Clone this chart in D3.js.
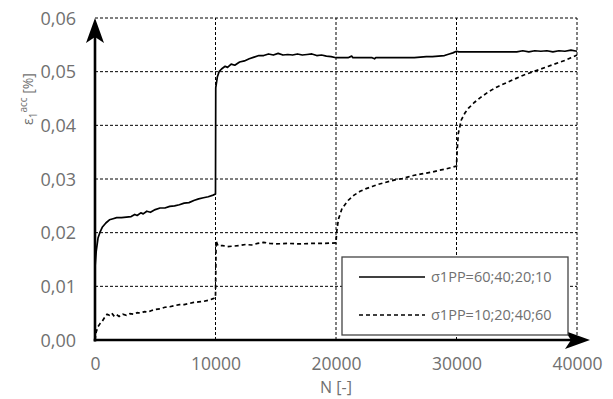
<!DOCTYPE html>
<html>
<head>
<meta charset="utf-8">
<script src="https://cdn.jsdelivr.net/npm/d3@7"></script>
<style>
  html, body { margin: 0; padding: 0; background: #fff; }
  svg { display: block; }
  text { font-family: "Open Sans", "Noto Sans", sans-serif; }
</style>
</head>
<body>
<svg id="chart" width="613" height="399"></svg>
<script>
// ---- Data ----
const xTicks = [0, 10000, 20000, 30000, 40000];
const yTicks = [0, 0.01, 0.02, 0.03, 0.04, 0.05, 0.06];
const seriesNames = ["σ1PP=60;40;20;10", "σ1PP=10;20;40;60"];

const solidN = [0,100,250,400,600,900,1200,1500,1800,2200,2600,3000,3300,3500,3800,4000,4300,4600,5000,5400,5800,6200,6600,7000,7400,7800,8200,8600,9000,9400,9800,10000,
  10020,10150,10300,10500,10800,11000,11300,11600,12000,12400,12800,13200,13600,14000,14400,14800,15200,15600,16000,16400,16800,17200,17600,18000,18400,18800,19200,19600,20000,
  21000,21300,21400,23000,23200,23300,25000,26500,27000,27500,28000,28500,29000,29400,29700,30000,
  30200,35000,35500,36000,36500,37000,37500,38000,38500,39000,39500,40000];
const solidV = [0.0135,0.0165,0.0190,0.0200,0.0210,0.0218,0.0224,0.0226,0.0228,0.0228,0.0229,0.0230,0.0234,0.0232,0.0237,0.0235,0.0240,0.0238,0.0243,0.0246,0.0246,0.0249,0.0250,0.0252,0.0255,0.0256,0.0260,0.0263,0.0265,0.0267,0.0270,0.0272,
  0.0470,0.0490,0.0500,0.0505,0.0510,0.0508,0.0514,0.0512,0.0518,0.0520,0.0524,0.0527,0.0530,0.0530,0.0533,0.0531,0.0534,0.0531,0.0532,0.0531,0.0533,0.0531,0.0532,0.0533,0.0530,0.0531,0.0529,0.0528,0.0526,
  0.0526,0.0529,0.0526,0.0526,0.0524,0.0526,0.0526,0.0526,0.0527,0.0528,0.0528,0.0529,0.0530,0.0533,0.0535,0.0538,
  0.0537,0.0537,0.0539,0.0537,0.0539,0.0538,0.0539,0.0537,0.0539,0.0538,0.0540,0.0538];

const dashedN = [0,100,250,400,600,800,1000,1200,1400,1600,1800,2000,2300,2600,2900,3200,3500,3800,4100,4400,4700,5000,5400,5800,6200,6600,7000,7400,7800,8200,8600,9000,9400,9800,10000,
  10050,10200,10600,11000,11500,12000,12500,13000,13500,14000,14500,15000,16000,17000,18000,19000,20000,
  20050,20200,20500,21000,21500,22000,22500,23000,23500,24000,24500,25000,25500,26000,26500,27000,27500,28000,28500,29000,29500,30000,
  30050,30150,30400,30700,31000,31500,32000,32500,33000,33500,34000,34500,35000,35500,36000,36500,37000,37500,38000,38500,39000,39500,40000];
const dashedV = [0.0000,0.0015,0.0025,0.0030,0.0035,0.0042,0.0048,0.0046,0.0050,0.0044,0.0047,0.0044,0.0048,0.0046,0.0049,0.0048,0.0051,0.0050,0.0053,0.0052,0.0055,0.0057,0.0058,0.0061,0.0062,0.0064,0.0066,0.0066,0.0068,0.0070,0.0071,0.0072,0.0074,0.0077,0.0079,
  0.0185,0.0176,0.0176,0.0174,0.0175,0.0176,0.0178,0.0177,0.0180,0.0182,0.0180,0.0179,0.0180,0.0179,0.0180,0.0180,0.0181,
  0.0200,0.0225,0.0245,0.0260,0.0270,0.0277,0.0282,0.0286,0.0290,0.0293,0.0296,0.0299,0.0301,0.0304,0.0307,0.0309,0.0311,0.0313,0.0316,0.0318,0.0321,0.0324,
  0.0350,0.0385,0.0410,0.0423,0.0432,0.0443,0.0452,0.0460,0.0467,0.0473,0.0478,0.0483,0.0488,0.0493,0.0497,0.0501,0.0505,0.0509,0.0513,0.0517,0.0521,0.0526,0.0531];

// ---- Chart ----
const svg = d3.select("#chart");
const x = d3.scaleLinear().domain([0, 40000]).range([95, 577]);
const y = d3.scaleLinear().domain([0, 0.06]).range([340, 18]);
const textColor = "#707070";
const fmtY = v => d3.format(".2f")(v).replace(".", ",");

// gridlines
svg.append("g").selectAll("line").data(yTicks.filter(d => d > 0)).join("line")
  .attr("x1", x(0)).attr("x2", x(40000))
  .attr("y1", d => y(d)).attr("y2", d => y(d))
  .attr("stroke", "#000").attr("stroke-width", 1).attr("stroke-dasharray", "3,2");
svg.append("g").selectAll("line").data(xTicks.filter(d => d > 0)).join("line")
  .attr("x1", d => x(d)).attr("x2", d => x(d))
  .attr("y1", y(0)).attr("y2", y(0.06))
  .attr("stroke", "#000").attr("stroke-width", 1).attr("stroke-dasharray", "3,2");

// axes tick labels via d3 axes
const yAxis = svg.append("g").attr("transform", `translate(${x(0) - 16},0)`)
  .call(d3.axisLeft(y).tickValues(yTicks).tickFormat(fmtY).tickSize(0));
yAxis.select(".domain").remove();
yAxis.selectAll("text").attr("fill", textColor).style("font-size", "18px")
  .attr("dx", 0).attr("dy", "0.35em");

const xAxis = svg.append("g").attr("transform", `translate(0,${y(0) + 14})`)
  .call(d3.axisBottom(x).tickValues(xTicks).tickFormat(d3.format("d")).tickSize(0));
xAxis.select(".domain").remove();
xAxis.selectAll("text").attr("fill", textColor).style("font-size", "17.5px").attr("dy", "0.72em");

// data lines
const line = d3.line().x(d => x(d[0])).y(d => y(d[1]));
svg.append("path").datum(d3.zip(solidN, solidV))
  .attr("d", line).attr("fill", "none").attr("stroke", "#000").attr("stroke-width", 1.7)
  .attr("stroke-linejoin", "round");
svg.append("path").datum(d3.zip(dashedN, dashedV))
  .attr("d", line).attr("fill", "none").attr("stroke", "#000").attr("stroke-width", 1.7)
  .attr("stroke-dasharray", "4,3");

// axis lines with arrows
svg.append("line").attr("x1", x(0)).attr("x2", x(0)).attr("y1", y(0) + 1.5).attr("y2", y(0.06) + 12)
  .attr("stroke", "#000").attr("stroke-width", 2.6);
svg.append("line").attr("x1", x(0) - 1.3).attr("x2", 575).attr("y1", y(0)).attr("y2", y(0))
  .attr("stroke", "#000").attr("stroke-width", 2.6);
const ax = x(0), ay = y(0.06);
svg.append("path")
  .attr("d", `M${ax},${ay} L${ax + 9},${ay + 25} L${ax},${ay + 19} L${ax - 9},${ay + 25} Z`)
  .attr("fill", "#000");
const bx = 590, by = y(0);
svg.append("path")
  .attr("d", `M${bx},${by} L${bx - 25},${by + 9} L${bx - 19},${by} L${bx - 25},${by - 9} Z`)
  .attr("fill", "#000");

// axis titles
svg.append("text").attr("x", x(20000)).attr("y", 393).attr("text-anchor", "middle")
  .attr("fill", textColor).style("font-size", "16px").text("N [-]");

const yl = svg.append("text").attr("transform", "translate(33,99) rotate(-90)")
  .attr("text-anchor", "middle").attr("fill", textColor).style("font-size", "14px");
yl.append("tspan").text("ε");
yl.append("tspan").attr("dy", 4).style("font-size", "10px").text("1");
yl.append("tspan").attr("dy", -10).style("font-size", "10px").text("acc");
yl.append("tspan").attr("dy", 6).text(" [%]");

// legend
const lg = svg.append("g");
lg.append("rect").attr("x", 342).attr("y", 257).attr("width", 226).attr("height", 78)
  .attr("fill", "#fff").attr("stroke", "#444").attr("stroke-width", 1.3);
seriesNames.forEach((name, i) => {
  const ly = 277 + i * 38;
  lg.append("line").attr("x1", 359).attr("x2", 425).attr("y1", ly).attr("y2", ly)
    .attr("stroke", "#000").attr("stroke-width", 1.3)
    .attr("stroke-dasharray", i === 1 ? "4,3" : null);
  lg.append("text").attr("x", 431).attr("y", ly).attr("dy", "0.35em")
    .attr("fill", textColor).style("font-size", "14.5px").text(name);
});
</script>
</body>
</html>
